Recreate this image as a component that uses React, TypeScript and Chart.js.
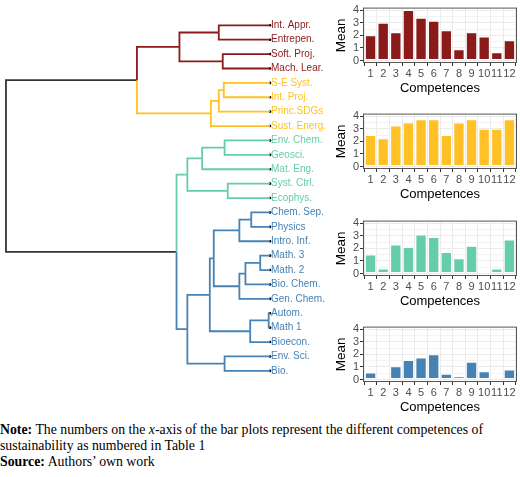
import React, { useEffect, useRef } from "react";
import { Chart, registerables } from "chart.js";

Chart.register(...registerables);

// ---------- Dendrogram data ----------
const leafLabels = [
  "Int. Appr.", "Entrepen.", "Soft. Proj.", "Mach. Lear.",
  "S-E Syst.", "Int. Proj.", "Princ.SDGs", "Sust. Energ.",
  "Env. Chem.", "Geosci.", "Mat. Eng.", "Syst. Ctrl.", "Ecophys.",
  "Chem. Sep.", "Physics", "Intro. Inf.", "Math. 3", "Math. 2", "Bio. Chem.",
  "Gen. Chem.", "Autom.", "Math 1", "Bioecon.", "Env. Sci.", "Bio.",
];
const leafCluster = [0, 0, 0, 0, 1, 1, 1, 1, 2, 2, 2, 2, 2, 3, 3, 3, 3, 3, 3, 3, 3, 3, 3, 3, 3];
// hclust-style merges: negative = leaf (1-based), positive = earlier merge (1-based)
const mergeLeft = [-21, -17, -14, 2, 1, 3, 4, -12, -9, -24, -5, -3, 11, -1, 6, 13, 15, 9, 18, 17, 14, 19, 21, 23];
const mergeRight = [-22, -18, -15, -19, -23, -16, -20, -13, -10, -25, -6, -4, -7, -2, 7, -8, 5, -11, 8, 10, 12, 20, 16, 22];
const mergeHeight = [0.05, 0.37, 0.71, 0.93, 0.75, 1.16, 1.16, 1.6, 1.72, 1.72, 1.75, 1.79, 1.94, 1.94, 2.13, 2.24, 2.28, 2.57, 3.13, 3.13, 3.43, 3.54, 5.04, 10];
const clusterColors = ["#8B1A1A", "#FFC125", "#66CDAA", "#4682B4"];
const rootColor = "#333333";

// ---------- Bar chart data ----------
const competences = [1, 2, 3, 4, 5, 6, 7, 8, 9, 10, 11, 12];
const meanCluster1 = [2.0, 3.0, 2.25, 4.0, 3.4, 3.15, 2.4, 0.9, 2.25, 1.9, 0.65, 1.6];
const meanCluster2 = [2.5, 2.25, 3.25, 3.5, 3.75, 3.75, 2.5, 3.5, 3.75, 3.0, 3.0, 3.75];
const meanCluster3 = [1.5, 0.4, 2.3, 2.1, 3.1, 2.9, 1.7, 1.2, 2.2, 0, 0.4, 2.7];
const meanCluster4 = [0.55, 0.15, 1.05, 1.55, 1.75, 2.0, 0.45, 0.25, 1.4, 0.65, 0.15, 0.8];
const meanTicks = [0, 0.5, 1, 1.5, 2, 2.5, 3, 3.5, 4];

const SANS = "'Liberation Sans', Arial, sans-serif";

function buildDendroDatasets() {
  const nodeY: number[] = [];
  const nodeH: number[] = [];
  const nodeC: number[] = [];
  const info = (ref: number) =>
    ref < 0
      ? { y: -ref, h: 0, c: leafCluster[-ref - 1] }
      : { y: nodeY[ref - 1], h: nodeH[ref - 1], c: nodeC[ref - 1] };
  const ds: any[] = [];
  for (let i = 0; i < mergeLeft.length; i++) {
    const a = info(mergeLeft[i]);
    const b = info(mergeRight[i]);
    const h = mergeHeight[i];
    const y = (a.y + b.y) / 2;
    for (const child of [a, b]) {
      ds.push({
        type: "line",
        data: [
          { x: child.h, y: child.y },
          { x: h, y: child.y },
          { x: h, y },
        ],
        borderColor: child.c >= 0 ? clusterColors[child.c] : rootColor,
        borderWidth: 1.8,
        pointRadius: 0,
        fill: false,
        tension: 0,
        clip: 4,
      });
    }
    nodeY.push(y);
    nodeH.push(h);
    nodeC.push(a.c === b.c ? a.c : -1);
  }
  ds.push({
    type: "scatter",
    data: leafLabels.map((_, i) => ({ x: 0, y: i + 1 })),
    backgroundColor: "#000",
    borderWidth: 0,
    pointRadius: 1.3,
    clip: 4,
  });
  return ds;
}

function Dendrogram() {
  const ref = useRef<HTMLCanvasElement | null>(null);
  useEffect(() => {
    if (!ref.current) return;
    const chart = new Chart(ref.current, {
      type: "scatter",
      data: { datasets: buildDendroDatasets() },
      options: {
        animation: false,
        responsive: false,
        maintainAspectRatio: false,
        layout: { padding: 0 },
        plugins: { legend: { display: false }, tooltip: { enabled: false } },
        scales: {
          x: { type: "linear", reverse: true, min: 0, max: 10.075, display: false },
          y: {
            type: "linear",
            position: "right",
            reverse: true,
            min: -0.27,
            max: 26.54,
            afterBuildTicks: (s: any) => {
              s.ticks = leafLabels.map((_, i) => ({ value: i + 1 }));
            },
            afterFit: (s: any) => {
              s.width = 60;
            },
            grid: { display: false, drawTicks: false },
            border: { display: false },
            ticks: {
              autoSkip: false,
              padding: 1,
              font: { family: SANS, size: 10 },
              color: (ctx: any) => clusterColors[leafCluster[Math.round(ctx.tick.value) - 1]],
              callback: (v: any) => leafLabels[Math.round(Number(v)) - 1],
            },
          },
        },
      } as any,
    });
    return () => chart.destroy();
  }, []);
  return (
    <canvas
      ref={ref}
      width={330}
      height={400}
      style={{ position: "absolute", left: 0, top: 0, width: 330, height: 400 }}
    />
  );
}

const framePlugin = {
  id: "frame",
  afterDraw(chart: any) {
    const { ctx, chartArea: a } = chart;
    ctx.save();
    ctx.strokeStyle = "#555";
    ctx.lineWidth = 1;
    ctx.strokeRect(a.left + 0.5, a.top + 0.5, a.right - a.left - 1, a.bottom - a.top - 1);
    ctx.restore();
  },
};

function BarPanel({ values, color, top }: { values: number[]; color: string; top: number }) {
  const ref = useRef<HTMLCanvasElement | null>(null);
  useEffect(() => {
    if (!ref.current) return;
    const chart = new Chart(ref.current, {
      type: "bar",
      data: {
        datasets: [
          {
            data: competences.map((c, i) => ({ x: c, y: values[i] })),
            backgroundColor: color,
            borderColor: "#ffffff",
            borderWidth: 1,
            borderSkipped: false,
            barPercentage: 0.9,
            categoryPercentage: 1,
          },
        ],
      },
      options: {
        animation: false,
        responsive: false,
        maintainAspectRatio: false,
        layout: { padding: { top: 1, right: 3, left: 0, bottom: 0 } },
        plugins: { legend: { display: false }, tooltip: { enabled: false } },
        scales: {
          x: {
            type: "linear",
            min: 0.4,
            max: 12.6,
            offset: false,
            afterBuildTicks: (s: any) => {
              s.ticks = competences.map((c) => ({ value: c }));
            },
            afterFit: (s: any) => {
              s.height = 35;
            },
            grid: { color: "#ebebeb", lineWidth: 1, tickColor: "#333", tickLength: 3 },
            border: { display: false },
            ticks: {
              autoSkip: false,
              maxRotation: 0,
              padding: 1,
              color: "#4d4d4d",
              font: { family: SANS, size: 11 },
              callback: (v: any) => String(v),
            },
            title: {
              display: true,
              text: "Competences",
              color: "#000",
              font: { family: SANS, size: 13 },
              padding: { top: 0, bottom: 2 },
            },
          },
          y: {
            type: "linear",
            min: -0.2,
            max: 4.2,
            afterBuildTicks: (s: any) => {
              s.ticks = meanTicks.map((v) => ({ value: v }));
            },
            afterFit: (s: any) => {
              s.width = 38;
            },
            grid: {
              color: "#ebebeb",
              lineWidth: (ctx: any) => (ctx.tick && Number.isInteger(ctx.tick.value) ? 1 : 0.6),
              tickColor: (ctx: any) =>
                ctx.tick && Number.isInteger(ctx.tick.value) ? "#333" : "rgba(0,0,0,0)",
              tickLength: 3,
            },
            border: { display: false },
            ticks: {
              autoSkip: false,
              padding: 1,
              color: "#4d4d4d",
              font: { family: SANS, size: 11 },
              callback: (v: any) => (Number.isInteger(Number(v)) ? String(v) : ""),
            },
            title: {
              display: true,
              text: "Mean",
              color: "#000",
              font: { family: SANS, size: 13.5 },
              padding: { top: 8, bottom: 0 },
            },
          },
        },
      } as any,
      plugins: [framePlugin],
    });
    return () => chart.destroy();
  }, []);
  return (
    <canvas
      ref={ref}
      width={195}
      height={98}
      style={{ position: "absolute", left: 325, top, width: 195, height: 98 }}
    />
  );
}

export default function App() {
  return (
    <div
      style={{
        position: "absolute",
        left: 0,
        top: 0,
        width: 520,
        height: 477,
        background: "#fff",
        overflow: "hidden",
      }}
    >
      <Dendrogram />
      <BarPanel values={meanCluster1} color={clusterColors[0]} top={0} />
      <BarPanel values={meanCluster2} color={clusterColors[1]} top={106} />
      <BarPanel values={meanCluster3} color={clusterColors[2]} top={213} />
      <BarPanel values={meanCluster4} color={clusterColors[3]} top={319} />
      <div
        style={{
          position: "absolute",
          left: 0,
          top: 422,
          width: 520,
          fontFamily: "'Liberation Serif', 'Times New Roman', serif",
          fontSize: 13.8,
          lineHeight: "16px",
          color: "#000",
        }}
      >
        <b>Note:</b> The numbers on the <i>x</i>-axis of the bar plots represent the different competences of
        <br />
        sustainability as numbered in Table 1
        <br />
        <b>Source:</b> Authors’ own work
      </div>
    </div>
  );
}
